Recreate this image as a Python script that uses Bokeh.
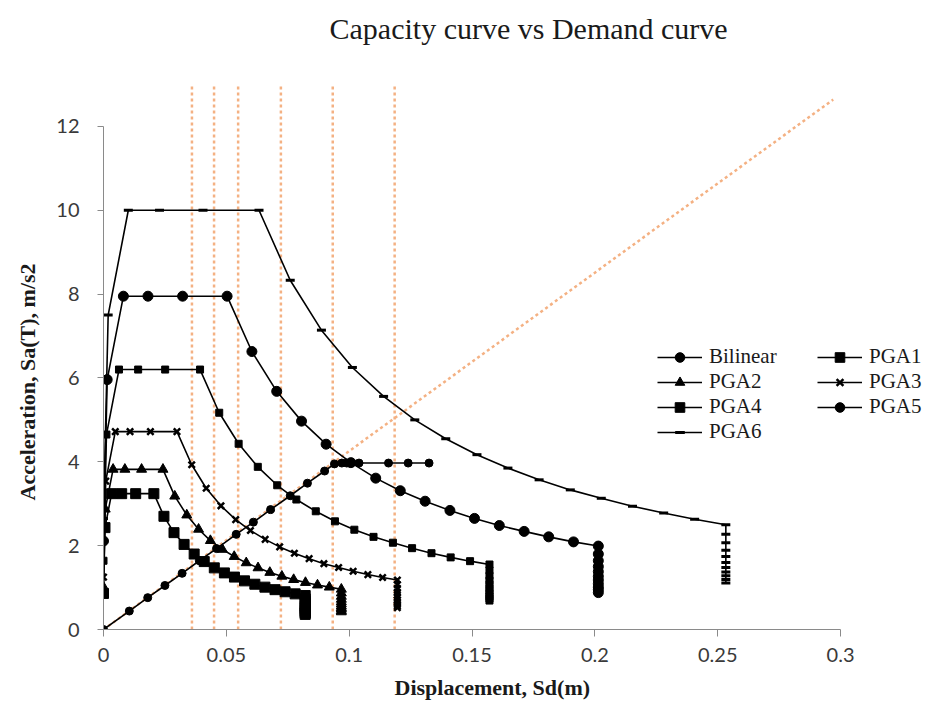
from bokeh.plotting import figure
from bokeh.models import Range1d, Legend, LegendItem, Title, FixedTicker
from bokeh.embed import file_html
from bokeh.resources import INLINE

# ---------------- data ----------------
x_ticks = [0, 0.05, 0.1, 0.15, 0.2, 0.25, 0.3]
x_tick_labels = ["0", "0.05", "0.1", "0.15", "0.2", "0.25", "0.3"]
y_ticks = [0, 2, 4, 6, 8, 10, 12]
y_tick_labels = ["0", "2", "4", "6", "8", "10", "12"]

bil_sd = [0, 0.0105, 0.018, 0.025, 0.032, 0.039, 0.046, 0.054, 0.061, 0.068,
          0.076, 0.083, 0.09, 0.094, 0.097, 0.099, 0.104, 0.116, 0.124, 0.1325]
bil_sa = [0, 0.44, 0.76, 1.05, 1.34, 1.64, 1.93, 2.27, 2.56, 2.86,
          3.19, 3.49, 3.78, 3.95, 3.97, 3.97, 3.97, 3.97, 3.97, 3.97]

pga1_sd = [0, 0.0006, 0.0033, 0.0074, 0.0131, 0.0205, 0.0246, 0.0287, 0.0328, 0.0369,
           0.041, 0.0451, 0.0492, 0.0533, 0.0574, 0.0616, 0.0657, 0.0698, 0.0739, 0.078,
           0.0821, 0.0821, 0.0821, 0.0821, 0.0821, 0.0821, 0.0821, 0.0821, 0.0821, 0.0821, 0.0821]
pga1_sa = [0.86, 2.43, 3.24, 3.24, 3.24, 3.24, 2.7, 2.31, 2.03, 1.8,
           1.62, 1.47, 1.35, 1.25, 1.16, 1.08, 1.01, 0.95, 0.9, 0.85,
           0.81, 0.73, 0.67, 0.61, 0.56, 0.52, 0.48, 0.44, 0.41, 0.39, 0.36]

pga2_sd = [0, 0.0007, 0.0039, 0.0087, 0.0155, 0.0242, 0.029, 0.0339, 0.0387, 0.0435,
           0.0484, 0.0532, 0.0581, 0.0629, 0.0677, 0.0726, 0.0774, 0.0822, 0.0871, 0.0919,
           0.0968, 0.0968, 0.0968, 0.0968, 0.0968, 0.0968, 0.0968, 0.0968, 0.0968, 0.0968, 0.0968]
pga2_sa = [1.01, 2.87, 3.82, 3.82, 3.82, 3.82, 3.18, 2.73, 2.39, 2.12,
           1.91, 1.74, 1.59, 1.47, 1.36, 1.27, 1.19, 1.12, 1.06, 1.01,
           0.96, 0.87, 0.79, 0.72, 0.66, 0.61, 0.56, 0.52, 0.49, 0.45, 0.42]

pga3_sd = [0, 0.0009, 0.0048, 0.0108, 0.0191, 0.0299, 0.0359, 0.0418, 0.0478, 0.0538,
           0.0598, 0.0658, 0.0717, 0.0777, 0.0837, 0.0897, 0.0957, 0.1016, 0.1076, 0.1136,
           0.1196, 0.1196, 0.1196, 0.1196, 0.1196, 0.1196, 0.1196, 0.1196, 0.1196, 0.1196, 0.1196]
pga3_sa = [1.25, 3.54, 4.72, 4.72, 4.72, 4.72, 3.93, 3.37, 2.95, 2.62,
           2.36, 2.15, 1.97, 1.82, 1.69, 1.57, 1.48, 1.39, 1.31, 1.24,
           1.18, 1.07, 0.98, 0.89, 0.82, 0.76, 0.7, 0.65, 0.6, 0.56, 0.52]

pga4_sd = [0, 0.0012, 0.0063, 0.0141, 0.0251, 0.0393, 0.0471, 0.055, 0.0628, 0.0707,
           0.0785, 0.0864, 0.0942, 0.1021, 0.1099, 0.1178, 0.1256, 0.1335, 0.1413, 0.1492,
           0.1571, 0.1571, 0.1571, 0.1571, 0.1571, 0.1571, 0.1571, 0.1571, 0.1571, 0.1571, 0.1571]
pga4_sa = [1.64, 4.65, 6.2, 6.2, 6.2, 6.2, 5.17, 4.43, 3.88, 3.44,
           3.1, 2.82, 2.58, 2.38, 2.21, 2.07, 1.94, 1.82, 1.72, 1.63,
           1.55, 1.41, 1.28, 1.17, 1.08, 0.99, 0.92, 0.85, 0.79, 0.74, 0.69]

pga5_sd = [0, 0.0015, 0.0081, 0.0181, 0.0322, 0.0503, 0.0604, 0.0705, 0.0806, 0.0906,
           0.1007, 0.1108, 0.1208, 0.1309, 0.141, 0.151, 0.1611, 0.1712, 0.1812, 0.1913,
           0.2014, 0.2014, 0.2014, 0.2014, 0.2014, 0.2014, 0.2014, 0.2014, 0.2014, 0.2014, 0.2014]
pga5_sa = [2.11, 5.96, 7.95, 7.95, 7.95, 7.95, 6.63, 5.68, 4.97, 4.42,
           3.98, 3.61, 3.31, 3.06, 2.84, 2.65, 2.48, 2.34, 2.21, 2.09,
           1.99, 1.8, 1.64, 1.5, 1.38, 1.27, 1.18, 1.09, 1.01, 0.95, 0.88]

pga6_sd = [0, 0.0019, 0.0101, 0.0228, 0.0405, 0.0633, 0.076, 0.0887, 0.1013, 0.114,
           0.1267, 0.1393, 0.152, 0.1646, 0.1773, 0.19, 0.2026, 0.2153, 0.228, 0.2406,
           0.2533, 0.2533, 0.2533, 0.2533, 0.2533, 0.2533, 0.2533, 0.2533, 0.2533, 0.2533, 0.2533]
pga6_sa = [2.65, 7.5, 10, 10, 10, 10, 8.33, 7.14, 6.25, 5.56,
           5.0, 4.55, 4.17, 3.85, 3.57, 3.33, 3.13, 2.94, 2.78, 2.63,
           2.5, 2.27, 2.07, 1.89, 1.74, 1.6, 1.48, 1.37, 1.28, 1.19, 1.11]

# performance-point guide lines (orange dotted)
vline_sd = [0.036, 0.045, 0.0548, 0.0722, 0.0933, 0.1185]
vline_top = 13.0
diag_sd = [0, 0.297]
diag_sa = [0, 12.64]

# ---------------- figure ----------------
SERIF = "Liberation Serif"
ORANGE = "#F4B183"
TEXT = "#1a1a1a"

p = figure(width=932, height=716, output_backend="svg", toolbar_location=None,
           x_range=Range1d(0, 0.3366), y_range=Range1d(0, 13.19),
           min_border_left=101, min_border_right=2, min_border_top=76, min_border_bottom=87)
p.background_fill_color = "white"
p.border_fill_color = "white"
p.outline_line_color = None
p.grid.visible = False

for ax, ticks, labels in ((p.xaxis[0], x_ticks, x_tick_labels), (p.yaxis[0], y_ticks, y_tick_labels)):
    ax.ticker = FixedTicker(ticks=ticks)
    ax.major_label_overrides = {t: l for t, l in zip(ticks, labels)}
    ax.minor_tick_line_color = None
    ax.axis_line_color = "#8a8a8a"
    ax.major_tick_line_color = "#8a8a8a"
    ax.major_tick_in = 0
    ax.major_label_text_font = "Lato"
    ax.major_label_text_font_size = "20px"
    ax.major_label_text_color = "#3a3a3a"
p.xaxis[0].bounds = (0, 0.3)
p.yaxis[0].bounds = (0, 12)
p.xaxis[0].major_tick_out = 7
p.yaxis[0].major_tick_out = 6
p.xaxis[0].major_label_standoff = 11
p.yaxis[0].major_label_standoff = 18

# orange guides
p.segment(x0=vline_sd, y0=[0] * len(vline_sd), x1=vline_sd, y1=[vline_top] * len(vline_sd),
          line_color=ORANGE, line_width=2.5, line_dash="3 3")
p.line(diag_sd, diag_sa, line_color=ORANGE, line_width=2.5, line_dash="3 3")

series = [
    ("Bilinear", bil_sd, bil_sa, "circle", 8, 1),
    ("PGA1", pga1_sd, pga1_sa, "square", 10, 1),
    ("PGA2", pga2_sd, pga2_sa, "triangle", 10, 1),
    ("PGA3", pga3_sd, pga3_sa, "x", 9, 2.5),
    ("PGA4", pga4_sd, pga4_sa, "square", 7, 1),
    ("PGA5", pga5_sd, pga5_sa, "circle", 10, 1),
    ("PGA6", pga6_sd, pga6_sa, "dash", 9, 3),
]
items = {}
for name, sd, sa, marker, size, lw in series:
    r1 = p.line(sd, sa, line_color="black", line_width=1.6)
    r2 = p.scatter(sd, sa, marker=marker, size=size, fill_color="black",
                   line_color="black", line_width=lw)
    items[name] = LegendItem(label=name, renderers=[r1, r2])

def make_legend(names, loc):
    lg = Legend(items=[items[n] for n in names], location=loc, orientation="vertical",
                padding=0, margin=0, spacing=0, label_height=24, glyph_height=24,
                glyph_width=45, label_standoff=7,
                label_text_font=SERIF, label_text_font_size="21px",
                label_text_color=TEXT,
                background_fill_alpha=0, border_line_alpha=0)
    p.add_layout(lg, "center")

make_legend(["Bilinear", "PGA2", "PGA4", "PGA6"], (554, 185))
make_legend(["PGA1", "PGA3", "PGA5"], (714, 210))

# titles: spacer nearest the frame, then the chart title above it
p.add_layout(Title(text=" ", text_font_size="10px", standoff=18), "above")
p.title.text = "Capacity curve vs Demand curve"
p.title.text_font = SERIF
p.title.text_font_size = "30px"
p.title.text_font_style = "normal"
p.title.text_color = TEXT
p.title.align = "left"
p.title.offset = 226
p.title.standoff = 0
p.title.vertical_align = "middle"

p.add_layout(Title(text="Displacement, Sd(m)", text_font=SERIF, text_font_size="22px",
                   text_font_style="bold", text_color=TEXT, align="left", offset=291,
                   standoff=18, vertical_align="middle"), "below")
p.add_layout(Title(text="Acceleration, Sa(T), m/s2", text_font=SERIF, text_font_size="22px",
                   text_font_style="bold", text_color=TEXT, align="left", offset=129,
                   standoff=26, vertical_align="middle"), "left")

open("out.html", "w").write(file_html(p, INLINE))
